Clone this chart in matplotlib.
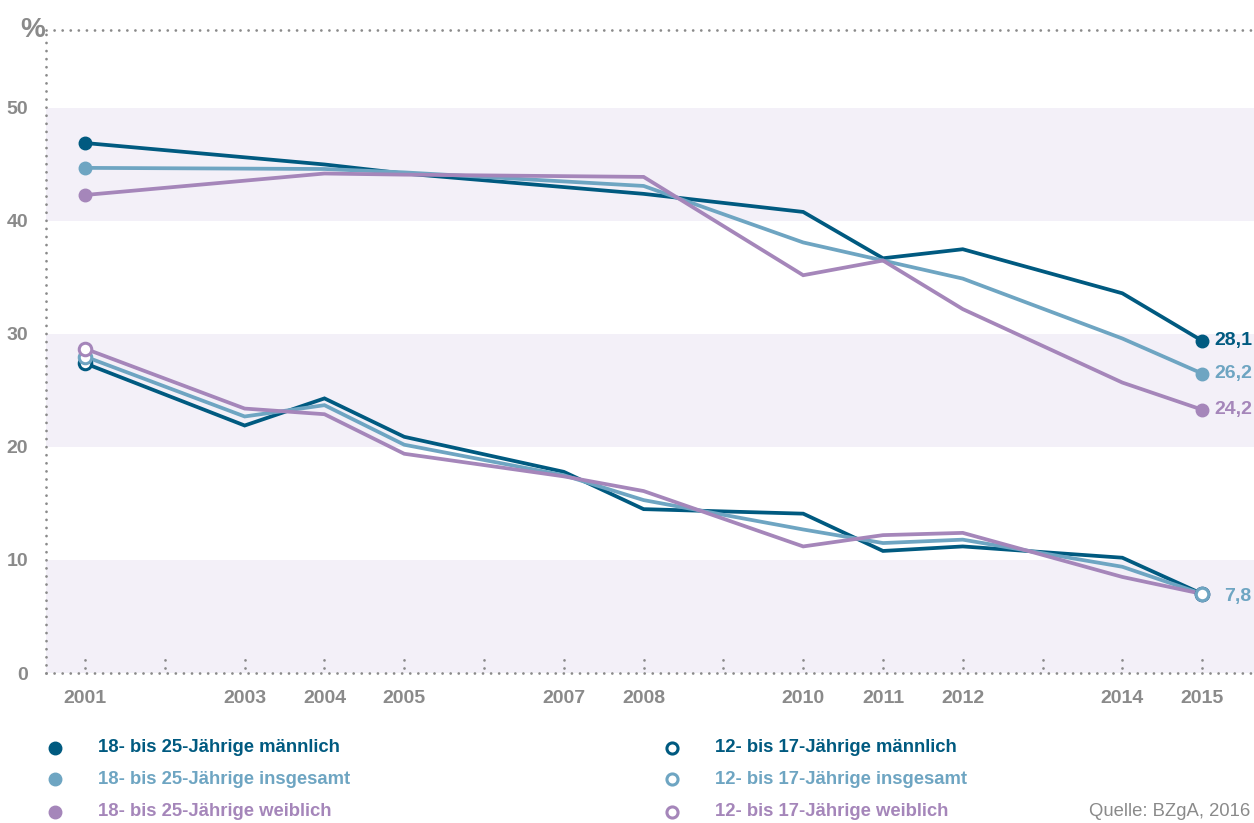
import matplotlib.pyplot as plt
from matplotlib.lines import Line2D

plt.rcParams['font.family'] = ['Liberation Sans', 'DejaVu Sans']

# Daten
years_older = [2001, 2004, 2005, 2008, 2010, 2011, 2012, 2014, 2015]
older_m = [46.9, 45.0, 44.2, 42.4, 40.8, 36.7, 37.5, 33.6, 29.4]
older_g = [44.7, 44.6, 44.3, 43.1, 38.1, 36.5, 34.9, 29.6, 26.5]
older_w = [42.3, 44.2, 44.1, 43.9, 35.2, 36.5, 32.2, 25.7, 23.3]

years_young = [2001, 2003, 2004, 2005, 2007, 2008, 2010, 2011, 2012, 2014, 2015]
young_m = [27.4, 21.9, 24.3, 20.9, 17.8, 14.5, 14.1, 10.8, 11.2, 10.2, 7.0]
young_g = [28.0, 22.7, 23.7, 20.2, 17.5, 15.3, 12.7, 11.5, 11.8, 9.4, 7.0]
young_w = [28.7, 23.4, 22.9, 19.4, 17.4, 16.1, 11.2, 12.2, 12.4, 8.5, 7.0]

end_labels_older = ['28,1', '26,2', '24,2']
end_label_young = '7,8'

labels_older = ['18- bis 25-Jährige männlich', '18- bis 25-Jährige insgesamt',
                '18- bis 25-Jährige weiblich']
labels_young = ['12- bis 17-Jährige männlich', '12- bis 17-Jährige insgesamt',
                '12- bis 17-Jährige weiblich']

tick_years = list(range(2001, 2016))
label_years = [2001, 2003, 2004, 2005, 2007, 2008, 2010, 2011, 2012, 2014, 2015]

c_dark = '#005a80'
c_light = '#6ea5c2'
c_purple = '#a586ba'
colors = [c_dark, c_light, c_purple]
grey = '#8a8a8a'
band = '#f3f0f8'

fig = plt.figure(figsize=(12.54, 8.23), dpi=100)
ax = fig.add_axes([46 / 1254, 150 / 823, 1208 / 1254, 643 / 823])
ax.set_xlim(2000.51, 2015.65)
ax.set_ylim(0, 56.9)

# Hintergrundbänder
for lo in [0, 20, 40]:
    ax.axhspan(lo, lo + 10, color=band, lw=0, zorder=0)

# gepunktete Achsen
dot = dict(color=grey, lw=2.0, linestyle=(0, (0.01, 2.9)), dash_capstyle='round',
           clip_on=False, zorder=1)
ax.axhline(0, **dot)
ax.axhline(56.9, **dot)
ax.axvline(2000.51, **dot)
ax.vlines(tick_years, 0.45, 1.5, colors=grey, lw=2.0, linestyles=[(0, (0.01, 2.9))],
          capstyle='round', zorder=1)

for s in ax.spines.values():
    s.set_visible(False)

# Linien
for vals, c in zip([older_m, older_g, older_w], colors):
    ax.plot(years_older, vals, color=c, lw=2.7, zorder=3, solid_joinstyle='miter')
    ax.plot([years_older[0], years_older[-1]], [vals[0], vals[-1]], 'o', color=c,
            ms=9, zorder=4)

for vals, c in zip([young_m, young_g, young_w], colors):
    ax.plot(years_young, vals, color=c, lw=2.7, zorder=3, solid_joinstyle='miter')
for vals, c in zip([young_m, young_g, young_w], colors):
    ax.plot(years_young[0], vals[0], 'o', mfc='white', mec=c, mew=2.2, ms=9, zorder=4)
for vals, c in zip([young_w, young_m, young_g], [c_purple, c_dark, c_light]):
    ax.plot(years_young[-1], vals[-1], 'o', mfc='white', mec=c, mew=2.2, ms=9, zorder=5)

# Endwerte
for vals, c, t in zip([older_m, older_g, older_w], colors, end_labels_older):
    ax.annotate(t, (years_older[-1], vals[-1]), xytext=(9, 0), textcoords='offset points',
                ha='left', va='center', color=c, fontsize=14, fontweight='bold',
                annotation_clip=False)
ax.annotate(end_label_young, (years_young[-1], young_g[-1]), xytext=(16, -2),
            textcoords='offset points', ha='left', va='center', color=c_light,
            fontsize=14, fontweight='bold', annotation_clip=False)

# Achsenbeschriftung
ax.set_yticks([0, 10, 20, 30, 40, 50])
ax.set_xticks(label_years)
ax.tick_params(length=0, labelcolor=grey, labelsize=14)
ax.tick_params(axis='y', pad=13)
ax.tick_params(axis='x', pad=12)
for lab in ax.get_xticklabels() + ax.get_yticklabels():
    lab.set_fontweight('bold')
fig.text(20 / 1254, 1 - 30 / 823, '%', color=grey, fontsize=20, fontweight='bold',
         va='center', ha='left')

# Legende
rows = [748, 779, 812]
for i in range(3):
    y = 1 - rows[i] / 823
    fig.add_artist(Line2D([55 / 1254], [y], marker='o', color=colors[i], ms=9,
                          transform=fig.transFigure))
    fig.text(98 / 1254, y, labels_older[i], color=colors[i], fontsize=13.3,
             fontweight='bold', va='center')
    fig.add_artist(Line2D([672 / 1254], [y], marker='o', mfc='white', mec=colors[i],
                          mew=2.2, ms=8, transform=fig.transFigure))
    fig.text(715 / 1254, y, labels_young[i], color=colors[i], fontsize=13.3,
             fontweight='bold', va='center')
fig.text(1250 / 1254, 1 - 812 / 823, 'Quelle: BZgA, 2016', color=grey, fontsize=13.3,
         va='center', ha='right')

plt.savefig('out.png', dpi=100)
